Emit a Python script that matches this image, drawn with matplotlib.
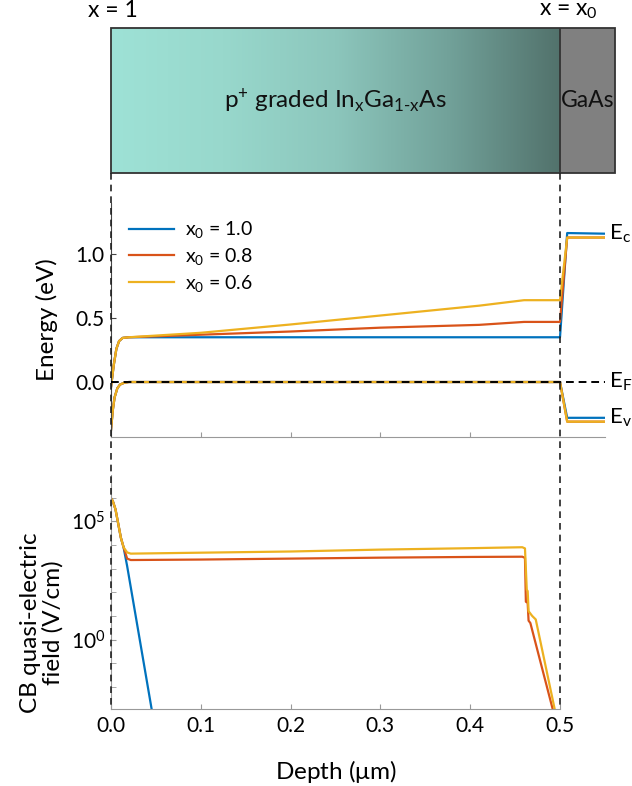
import numpy as np
import matplotlib
matplotlib.use("Agg")
import matplotlib.pyplot as plt
from matplotlib.lines import Line2D
from matplotlib.colors import LinearSegmentedColormap
from matplotlib.ticker import FixedLocator, NullFormatter
import matplotlib.transforms as mtransforms

plt.rcParams['font.family'] = ['Lato', 'DejaVu Sans']
plt.rcParams['mathtext.fontset'] = 'custom'
plt.rcParams['mathtext.rm'] = 'Lato'
plt.rcParams['mathtext.it'] = 'Lato:italic'
plt.rcParams['mathtext.bf'] = 'Lato:bold'

# ---- series ----
labels = ['x$_0$ = 1.0', 'x$_0$ = 0.8', 'x$_0$ = 0.6']
colors = ['#0072BD', '#D95319', '#EDB120']

# conduction band edge (eV) vs depth (um)
ec_depth = [0.0, 0.003, 0.006, 0.009, 0.013, 0.02, 0.1, 0.2, 0.3, 0.41, 0.46, 0.5, 0.508, 0.55]
ec_x10 = [-0.04, 0.13, 0.26, 0.32, 0.345, 0.35, 0.35, 0.35, 0.35, 0.35, 0.35, 0.35, 1.165, 1.16]
ec_x08 = [-0.04, 0.13, 0.26, 0.32, 0.345, 0.35, 0.37, 0.395, 0.425, 0.447, 0.47, 0.47, 1.13, 1.13]
ec_x06 = [-0.04, 0.13, 0.26, 0.32, 0.345, 0.35, 0.385, 0.45, 0.52, 0.597, 0.64, 0.64, 1.13, 1.13]

# valence band edge (eV)
ev_depth = [0.0, 0.002, 0.004, 0.007, 0.01, 0.015, 0.02, 0.5, 0.508, 0.55]
ev_x10 = [-0.375, -0.22, -0.12, -0.05, -0.02, -0.005, 0.0, 0.0, -0.28, -0.28]
ev_x08 = [-0.375, -0.22, -0.12, -0.05, -0.02, -0.005, 0.0, 0.0, -0.31, -0.31]
ev_x06 = [-0.375, -0.22, -0.12, -0.05, -0.02, -0.005, 0.0, 0.0, -0.31, -0.31]

# CB quasi-electric field, log10(V/cm)
fd_x10 = [0.0, 0.002, 0.005, 0.008, 0.011, 0.014, 0.018, 0.032, 0.046]
fl_x10 = [5.97, 5.85, 5.5, 4.9, 4.3, 3.9, 3.1, 0.0, -3.1]
fd_x08 = [0.0, 0.002, 0.005, 0.008, 0.011, 0.014, 0.018, 0.022, 0.1, 0.2, 0.3, 0.4,
          0.458, 0.461, 0.462, 0.464, 0.465, 0.467, 0.493]
fl_x08 = [5.97, 5.85, 5.5, 4.9, 4.3, 3.9, 3.42, 3.36, 3.38, 3.42, 3.46, 3.49,
          3.5, 3.45, 1.6, 1.55, 0.8, 0.7, -3.1]
fd_x06 = [0.0, 0.002, 0.005, 0.008, 0.011, 0.014, 0.018, 0.022, 0.1, 0.2, 0.3, 0.4,
          0.458, 0.461, 0.463, 0.464, 0.465, 0.469, 0.473, 0.495]
fl_x06 = [5.97, 5.85, 5.5, 4.9, 4.3, 3.9, 3.68, 3.63, 3.67, 3.72, 3.8, 3.86,
          3.9, 3.85, 2.1, 2.05, 1.2, 1.0, 0.85, -3.1]

ec_series = [ec_x10, ec_x08, ec_x06]
ev_series = [ev_x10, ev_x08, ev_x06]
field_series = [(fd_x10, fl_x10), (fd_x08, fl_x08), (fd_x06, fl_x06)]

# ---- layout (pixels -> figure fractions) ----
W, H = 632, 786
fig = plt.figure(figsize=(W / 100, H / 100), dpi=100)
px_per_um = 898.0
x0 = 111

def box(left, top, right, bottom):
    return [left / W, 1 - bottom / H, (right - left) / W, (bottom - top) / H]

ax_top = fig.add_axes(box(x0, 28, 615, 173))
ax_mid = fig.add_axes(box(x0, 203, x0 + 0.55 * px_per_um, 437))
ax_bot = fig.add_axes(box(x0, 475, x0 + 0.5 * px_per_um, 709))

spine_dark = '#444444'
spine_light = '#999999'
fs_tick = 15
fs_lab = 17.5
fs_top = 16.5

# ---- layer stack ----
top_xmax = (615 - x0) / px_per_um
ax_top.set_xlim(0, top_xmax)
ax_top.set_ylim(0, 1)
ax_top.axis('off')
grad = LinearSegmentedColormap.from_list(
    'ingaas', [(0.0, '#9EE2D6'), (0.25, '#98D8CC'), (0.5, '#8CC6BC'),
               (0.75, '#72A29A'), (1.0, '#52726C')])
ax_top.imshow(np.linspace(0, 1, 256)[None, :], cmap=grad, aspect='auto',
              extent=[0, 0.5, 0, 1], zorder=1)
ax_top.add_patch(plt.Rectangle((0.5, 0), top_xmax - 0.5, 1, facecolor='#808080',
                               edgecolor='none', zorder=1))
ax_top.add_patch(plt.Rectangle((0, 0), top_xmax, 1, facecolor='none',
                               edgecolor='#333333', lw=1.3, zorder=3, clip_on=False))
ax_top.plot([0.5, 0.5], [0, 1], color='#333333', lw=1.3, zorder=3)
ax_top.text(0.25, 0.5, r'p$^{+}$ graded In$_{\mathrm{x}}$Ga$_{\mathrm{1\text{-}x}}$As',
            ha='center', va='center', fontsize=17.5, color='#111111')
ax_top.text(0.5 + (top_xmax - 0.5) / 2, 0.5, 'GaAs', ha='center', va='center',
            fontsize=fs_top, color='#111111')
ax_top.text(0.002, 1.05, 'x = 1', ha='center', va='bottom', fontsize=fs_top)
ax_top.text(0.509, 1.05, r'x = x$_0$', ha='center', va='bottom', fontsize=fs_top)

# ---- band diagram ----
for ec, ev, c, lab in zip(ec_series, ev_series, colors, labels):
    ax_mid.plot(ec_depth, ec, color=c, lw=1.6, label=lab, solid_joinstyle='round')
    ax_mid.plot(ev_depth, ev, color=c, lw=1.6, solid_joinstyle='round')
ax_mid.plot([0, 0.55], [0, 0], color='black', lw=1.4, dashes=(4, 2.5), zorder=5)
ax_mid.set_xlim(0, 0.55)
ax_mid.set_ylim(-0.43, 1.40)
ax_mid.set_yticks([0.0, 0.5, 1.0])
ax_mid.set_yticklabels(['0.0', '0.5', '1.0'])
ax_mid.set_xticks([0.1, 0.2, 0.3, 0.4])
ax_mid.tick_params(axis='x', direction='in', length=3.5, labelbottom=False,
                   color=spine_light)
ax_mid.tick_params(axis='y', direction='in', length=3.5, labelsize=fs_tick, pad=5,
                   color=spine_dark)
for s in ['top', 'right']:
    ax_mid.spines[s].set_visible(False)
ax_mid.spines['left'].set_color(spine_dark)
ax_mid.spines['bottom'].set_color(spine_light)
ax_mid.set_ylabel('Energy (eV)', fontsize=fs_lab)
ax_mid.yaxis.set_label_coords(-0.107, 0.5)
ax_mid.legend(loc='upper left', bbox_to_anchor=(0.036, 0.93), frameon=False,
              fontsize=14, handlelength=2.3, handletextpad=0.6,
              labelspacing=0.3, borderpad=0.0, borderaxespad=0.0)
ax_mid.text(0.555, 1.16, r'E$_\mathrm{c}$', fontsize=16, va='center', ha='left',
            clip_on=False)
ax_mid.text(0.555, 0.0, r'E$_\mathrm{F}$', fontsize=16, va='center', ha='left',
            clip_on=False)
ax_mid.text(0.555, -0.28, r'E$_\mathrm{v}$', fontsize=16, va='center', ha='left',
            clip_on=False)

# ---- quasi-electric field ----
for (d, lg), c in zip(field_series, colors):
    ax_bot.plot(d, 10.0 ** np.array(lg), color=c, lw=1.6, solid_joinstyle='round')
ax_bot.set_yscale('log')
ax_bot.set_xlim(0, 0.5)
ax_bot.set_ylim(10 ** -2.93, 10 ** 6.95)
ax_bot.yaxis.set_major_locator(FixedLocator([1.0, 1e5]))
ax_bot.yaxis.set_minor_locator(FixedLocator([10.0 ** k for k in range(-2, 8) if k not in (0, 5)]))
ax_bot.yaxis.set_minor_formatter(NullFormatter())
ax_bot.set_yticklabels([r'10$^{0}$', r'10$^{5}$'])
ax_bot.set_xticks([0.0, 0.1, 0.2, 0.3, 0.4, 0.5])
ax_bot.set_xticklabels(['0.0', '0.1', '0.2', '0.3', '0.4', '0.5'])
ax_bot.tick_params(axis='x', direction='in', length=3.5, labelsize=fs_tick, pad=5,
                   color=spine_light)
ax_bot.tick_params(axis='y', which='both', direction='in', length=3.5,
                   labelsize=fs_tick, pad=4, color=spine_light)
for s in ['top', 'right']:
    ax_bot.spines[s].set_visible(False)
ax_bot.spines['left'].set_color(spine_light)
ax_bot.spines['bottom'].set_color(spine_light)
ax_bot.set_xlabel(r'Depth ($\mathrm{\mu}$m)', fontsize=fs_lab, labelpad=16)
ax_bot.set_ylabel('CB quasi-electric\nfield (V/cm)', fontsize=fs_lab,
                  linespacing=1.05)
ax_bot.yaxis.set_label_coords(-0.105, 0.37)

# ---- dashed guides linking the panels ----
trans = mtransforms.blended_transform_factory(ax_bot.transData, fig.transFigure)
for xv in (0.0, 0.5):
    fig.add_artist(Line2D([xv, xv], [1 - 173 / H, 1 - 709 / H], transform=trans,
                          color='#222222', lw=1.2, dashes=(4, 3), zorder=10))

fig.savefig('out.png', dpi=100)
